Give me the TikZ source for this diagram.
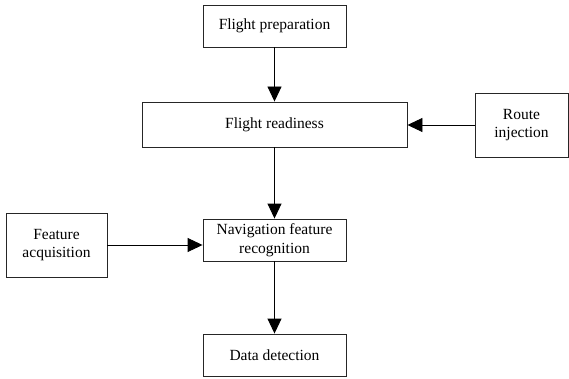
\documentclass[tikz,border=0pt]{standalone}
\usepackage{fontspec}
\setmainfont{Liberation Serif}
\usetikzlibrary{arrows.meta}
\begin{document}
\begin{tikzpicture}[x=1pt,y=-1pt,
  box/.style={draw=black!85, line width=0.9pt, inner sep=0pt, align=center,
    font=\fontsize{15.5}{18.5}\selectfont},
  flow/.style={draw=black, line width=0.9pt, -{Triangle[length=15pt,width=14pt]}}]
  \useasboundingbox (0,0) rectangle (569,379);
  % main column
  \node[box, minimum width=143pt, minimum height=42pt] (prep) at (274.5,26) {Flight preparation};
  \node[box, minimum width=265pt, minimum height=45pt] (ready) at (274.5,124.5) {Flight readiness};
  \node[box, minimum width=143pt, minimum height=42pt] (nav) at (274.5,240) {Navigation feature\\recognition};
  \node[box, minimum width=143pt, minimum height=42pt] (data) at (274.5,355) {Data detection};
  % side inputs
  \node[box, minimum width=93pt, minimum height=64pt] (route) at (521.5,125) {Route\\injection};
  \node[box, minimum width=101pt, minimum height=64pt] (acq) at (56.5,245) {Feature\\acquisition};
  % connectors
  \draw[flow] (prep) -- (ready);
  \draw[flow] (ready) -- (nav);
  \draw[flow] (nav) -- (data);
  \draw[flow] (route.west) -- (route.west -| ready.east);
  \draw[flow] (acq.east) -- (acq.east -| nav.west);
\end{tikzpicture}
\end{document}
